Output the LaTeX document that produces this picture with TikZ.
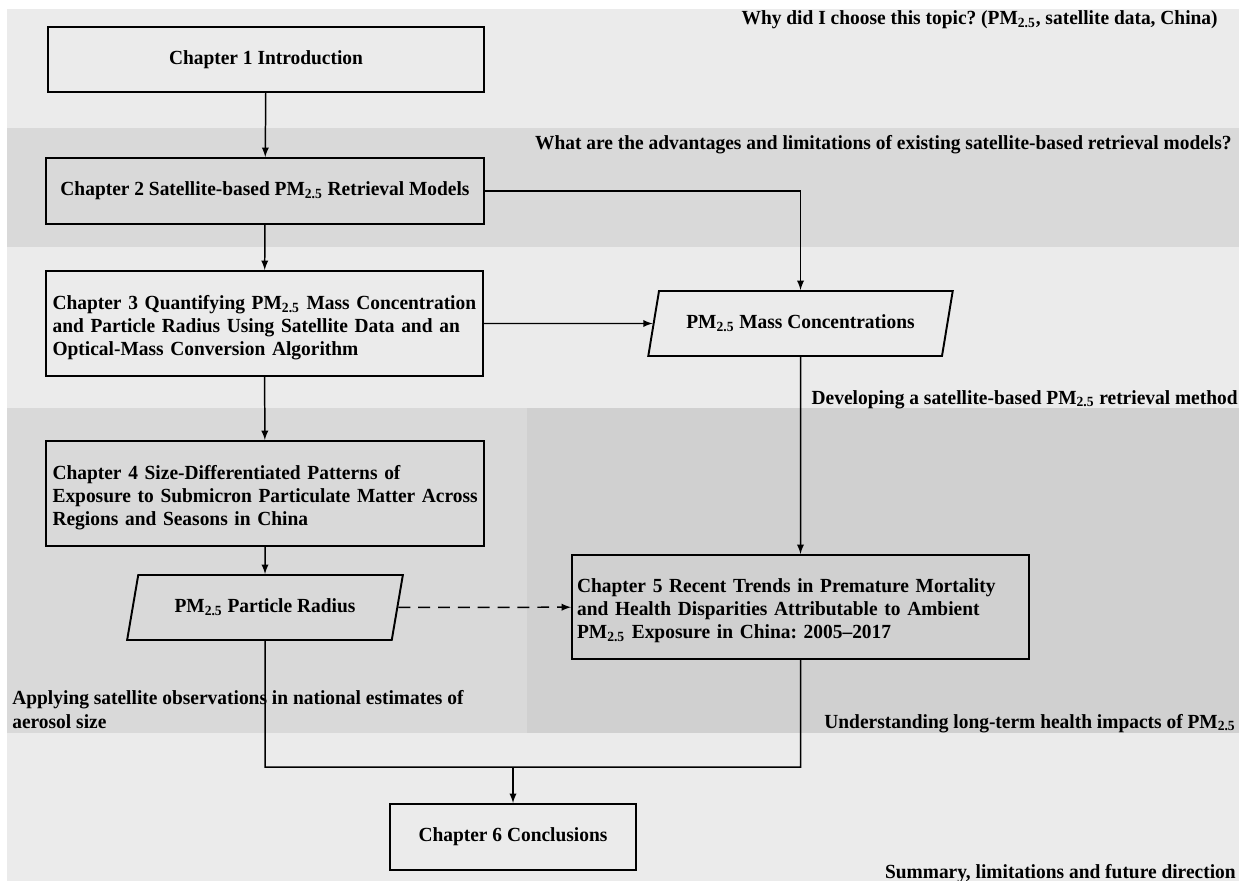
\documentclass[tikz,border=0pt]{standalone}
\usepackage{fontspec}
\setmainfont{Liberation Serif}[FakeStretch=0.97]
\usetikzlibrary{arrows,shapes.geometric}
\definecolor{band_light}{RGB}{235, 235, 235}
\definecolor{band_mid}{RGB}{217, 217, 217}
\definecolor{band_dark}{RGB}{208, 208, 208}
\tikzstyle{cb}=[rectangle,draw=black,line width=1.1pt,inner sep=0pt]
\tikzstyle{tb}=[rectangle,draw=black,line width=1.1pt,align=left,
  inner xsep=0.13cm,inner ysep=0pt,execute at begin node={\rule{0pt}{0.44cm}}]
\tikzstyle{db}=[trapezium,trapezium stretches=true,draw=black,
  line width=1.1pt,inner sep=0pt]
\tikzstyle{lb}=[inner sep=0pt]
\tikzstyle{arr}=[->,>=latex,line width=0.85pt]
\tikzstyle{dsh}=[->,>=latex,line width=0.85pt,dash pattern=on 6.8pt off 4.5pt]
\tikzstyle{ln}=[line width=0.85pt]
\tikzstyle{none}=[inner sep=0pt]
\frenchspacing

\begin{document}
\begin{tikzpicture}[x=0.02cm, y=-0.02cm, every node/.style={font=\fontsize{11.4}{13.1}\selectfont\bfseries}]
            \useasboundingbox (0,0) rectangle (1239,881);
            \fill [white] (0,0) rectangle (1239,881);
            \fill [band_light] (7,9) rectangle (1239,881);
            \fill [band_mid] (7,128) rectangle (1239,247);
            \fill [band_mid] (7,408) rectangle (527,733);
            \fill [band_dark] (527,408) rectangle (1239,733);
            \node [style=cb, minimum width=8.72cm, minimum height=1.3cm] (0) at (266, 59.5) {Chapter 1 Introduction};
            \node [style=cb, minimum width=8.76cm, minimum height=1.32cm] (1) at (265, 191) {Chapter 2 Satellite-based PM\textsubscript{2.5} Retrieval Models};
            \node [style=tb, text width=8.48cm, minimum height=2.1cm] (2) at (264.5, 323.5) {Chapter 3 Quantifying PM\textsubscript{2.5} Mass Concentration\\and Particle Radius Using Satellite Data and an\\Optical-Mass Conversion Algorithm};
            \node [style=tb, text width=8.5cm, minimum height=2.1cm] (3) at (265, 493.5) {Chapter 4 Size-Differentiated Patterns of\\\mbox{Exposure to Submicron Particulate Matter Across}\\Regions and Seasons in China};
            \node [style=db, trapezium left angle=63, trapezium right angle=117, minimum width=6.1cm, minimum height=1.3cm] (4) at (800.5, 323.5) {PM\textsubscript{2.5} Mass Concentrations};
            \node [style=db, trapezium left angle=65, trapezium right angle=115, minimum width=5.52cm, minimum height=1.3cm] (5) at (265, 607.5) {PM\textsubscript{2.5} Particle Radius};
            \node [style=tb, inner xsep=0.1cm, text width=8.94cm, minimum height=2.08cm] (6) at (800.5, 607) {Chapter 5 Recent Trends in Premature Mortality\\and Health Disparities Attributable to Ambient\\PM\textsubscript{2.5} Exposure in China: 2005--2017};
            \node [style=cb, minimum width=4.92cm, minimum height=1.32cm] (7) at (513, 837) {Chapter 6 Conclusions};
            \node [style=lb, anchor=base east] (8) at (1218, 25) {Why did I choose this topic? (PM\textsubscript{2.5}, satellite data, China)};
            \node [style=lb, anchor=base east] (9) at (1232, 150) {What are the advantages and limitations of existing satellite-based retrieval models?};
            \node [style=lb, anchor=base east] (10) at (1238, 404) {Developing a satellite-based PM\textsubscript{2.5} retrieval method};
            \node [style=lb, anchor=base east] (11) at (1236, 728) {Understanding long-term health impacts of PM\textsubscript{2.5}};
            \node [style=lb, anchor=base west, align=left] (12) at (12, 728) {Applying satellite observations in national estimates of\\aerosol size};
            \node [style=lb, anchor=base east] (13) at (1236, 878) {Summary, limitations and future direction};
            \node [style=none] (14) at (265, 767) {};
            \node [style=none] (15) at (513, 767) {};
            \draw [style=arr] (0) to (1);
            \draw [style=arr] (1) to (2);
            \draw [style=arr] (2) to (3);
            \draw [style=arr] (3) to (5);
            \draw [style=arr] (1) -| (4);
            \draw [style=arr] (2) to (4);
            \draw [style=arr] (4) to (6);
            \draw [style=dsh] (5) to (6);
            \draw [style=ln] (6) |- (14.center) -- (5);
            \draw [style=arr] (15.center) to (7);
    \end{tikzpicture}
\end{document}
